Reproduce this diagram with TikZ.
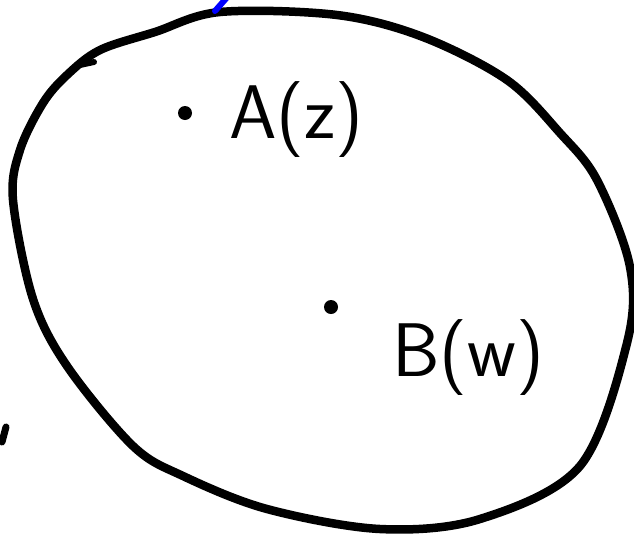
\documentclass[tikz,border=0pt]{standalone}
\usepackage{tikz}
\usetikzlibrary{positioning}

\begin{document}
\begin{tikzpicture}[x=1pt, y=-1pt,
  outline/.style={line width=8.5pt, line cap=round, line join=round},
  blob/.style={circle, fill, inner sep=0pt, minimum size=14pt},
  lbl/.style={font=\sffamily\fontsize{76}{80}\selectfont, inner sep=0pt, anchor=base west}
]
\useasboundingbox (0,0) rectangle (634,536);
% the region
\draw[outline] plot[smooth cycle, tension=0.55] coordinates {
  (220,12) (337,15) (423,37) (507,80) (560,133) (597,180) (630,267)
  (627,343) (580,466) (480,519) (380,529) (267,509) (183,476) (133,446)
  (67,366) (33,299) (13,200) (20,150) (43,103) (67,75) (100,50) (155,32)};
% stray pen marks
\draw[outline, line width=6pt] (80,65) -- (94,62);
\draw[outline, line width=7pt] (6,427) -- (2,442);
\draw[outline, line width=6pt, blue] (215,11) -- (230,-6);
% the two points
\node[blob] (dotA) at (185,113) {};
\node[blob] (dotB) at (331,307) {};
\node[lbl] (labA) at (229,138) {A(z)};
\node[lbl] (labB) at (392,376) {B(w)};
\end{tikzpicture}
\end{document}
